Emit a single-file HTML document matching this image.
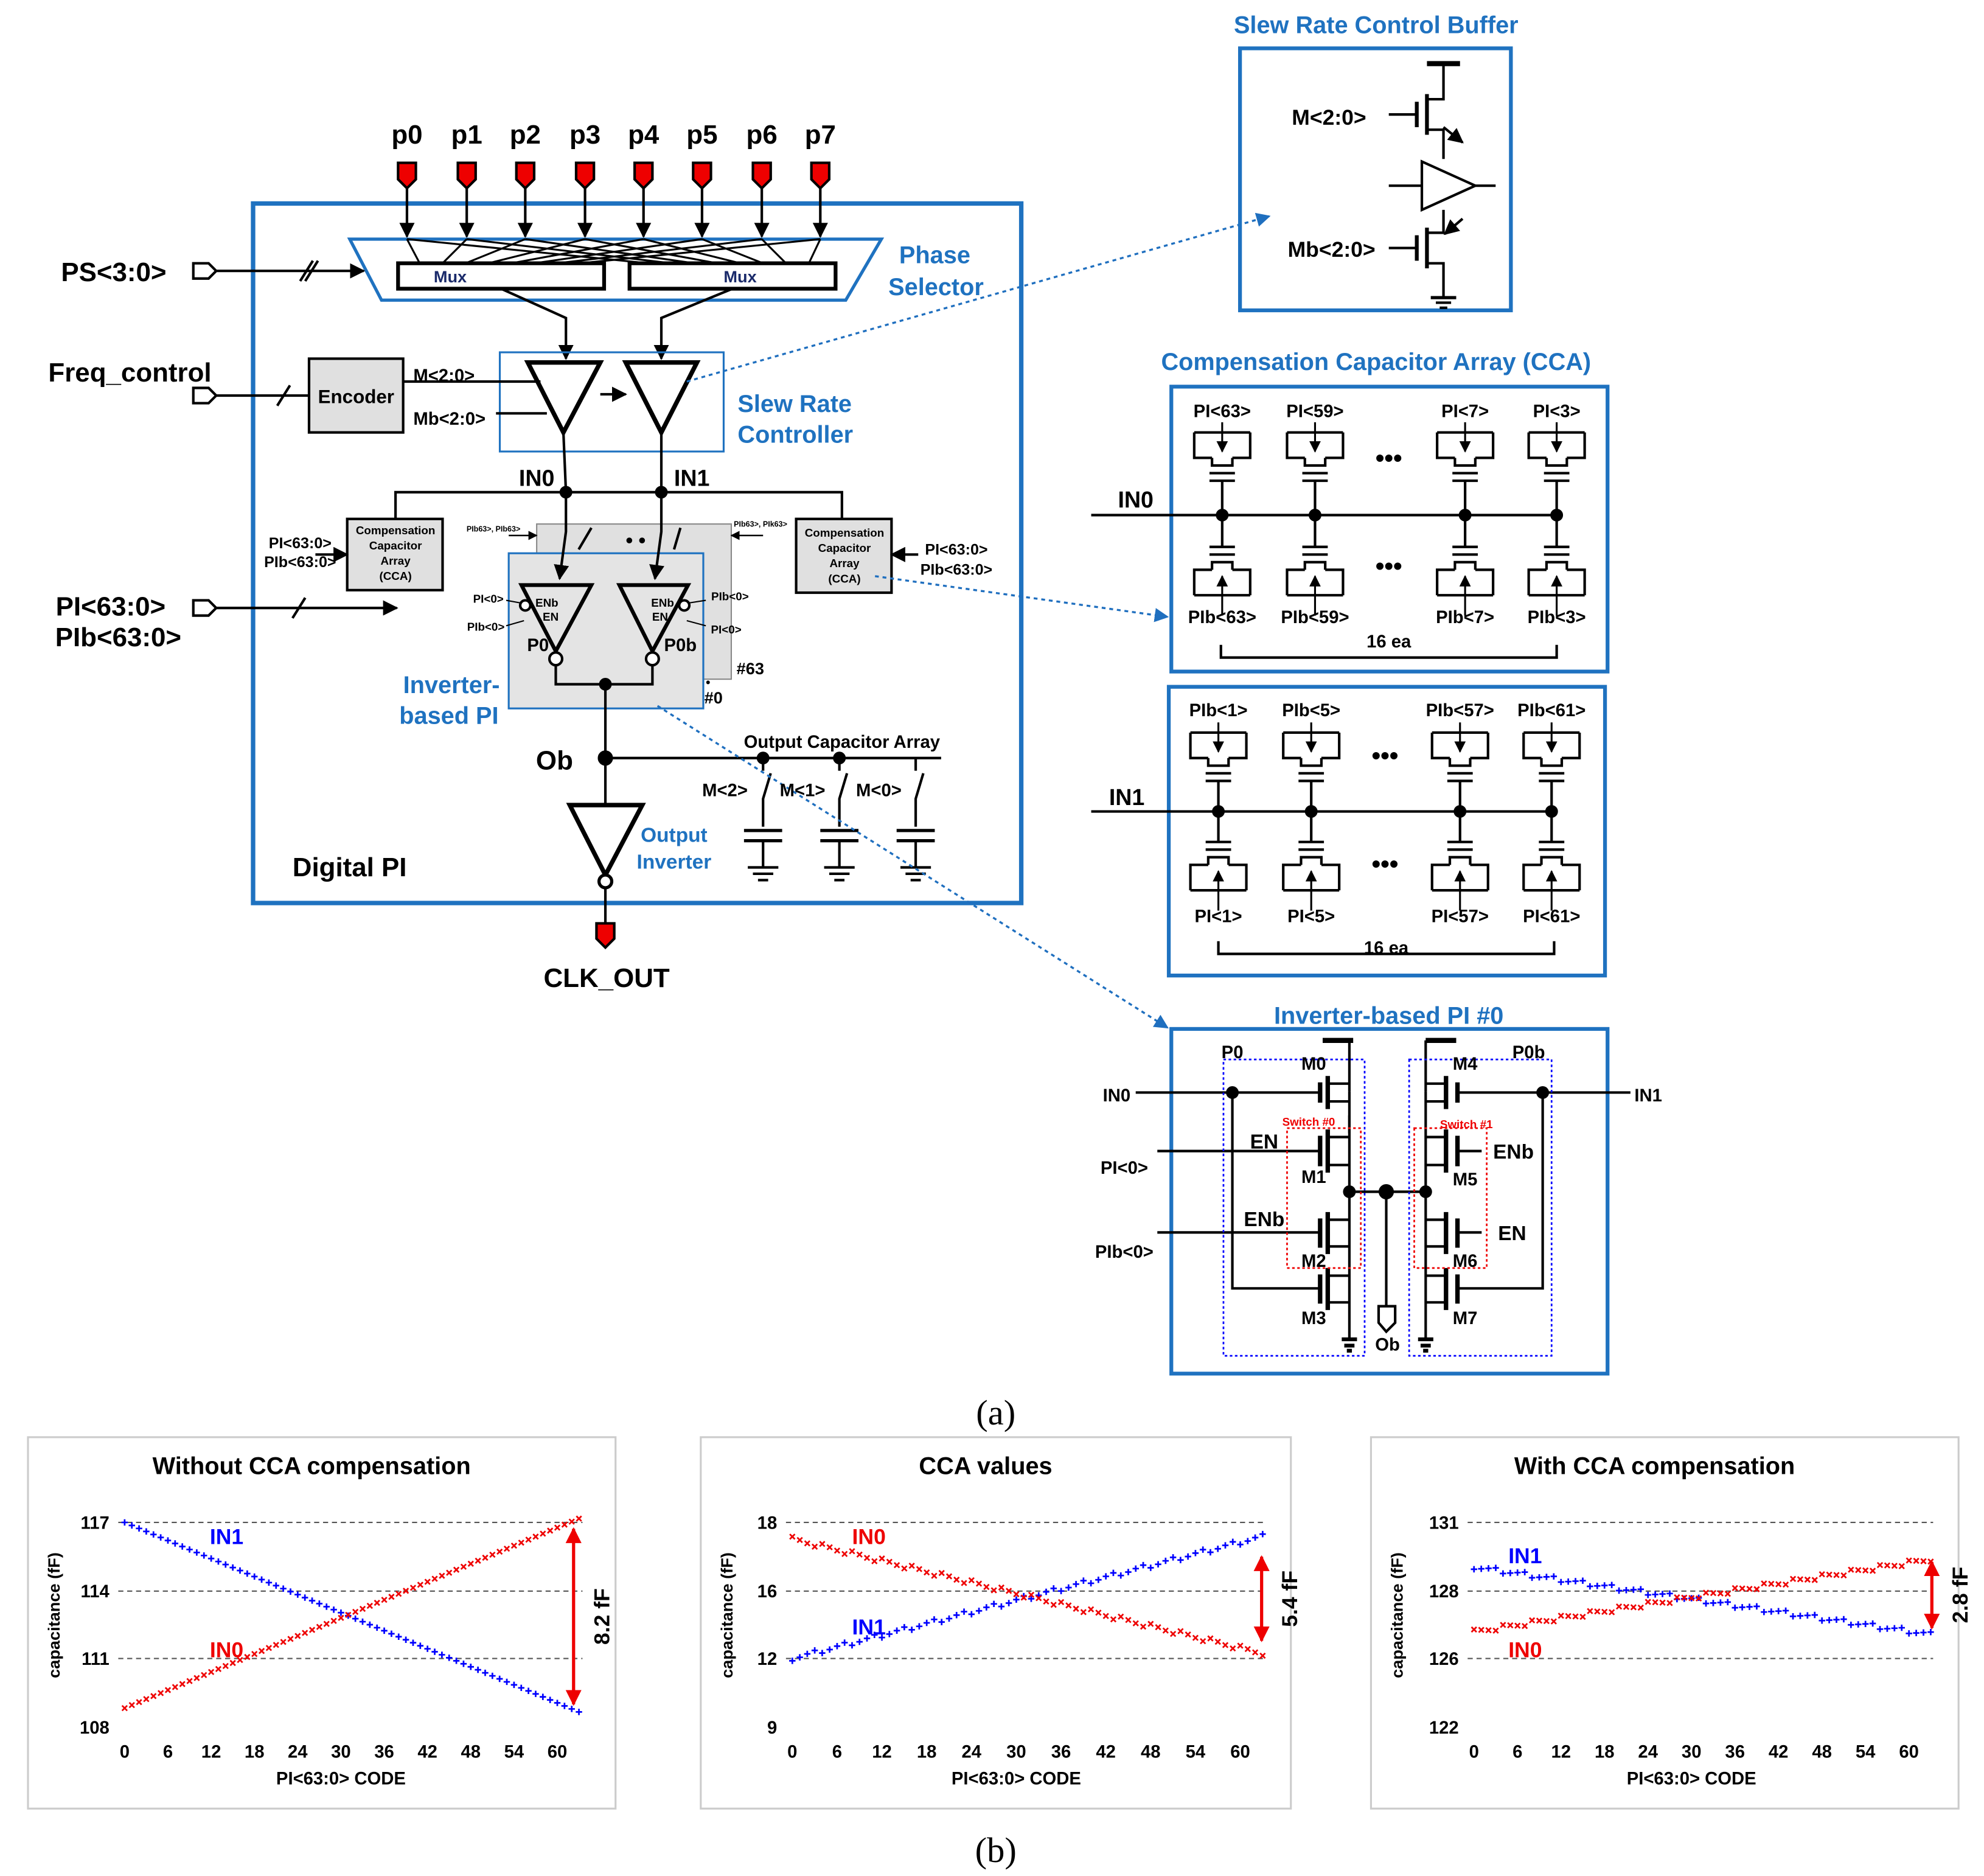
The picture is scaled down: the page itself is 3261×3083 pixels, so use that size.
<!DOCTYPE html>
<html><head><meta charset="utf-8"><style>
html,body{margin:0;padding:0;background:#fff}
svg{display:block}
text{font-family:"Liberation Sans",Arial,sans-serif;font-weight:bold}
</style></head><body>
<svg id="s" width="3261" height="3083" viewBox="0 0 1560 1475" preserveAspectRatio="none" xmlns="http://www.w3.org/2000/svg">
<defs>
<marker id="ar" viewBox="0 0 10 10" refX="9" refY="5" markerWidth="6" markerHeight="6" orient="auto"><path d="M0,0L10,5L0,10z" fill="#000"/></marker>
<marker id="ab" viewBox="0 0 10 10" refX="9" refY="5" markerWidth="7" markerHeight="7" orient="auto"><path d="M0,0L10,5L0,10z" fill="#1f6fbf"/></marker>
<marker id="arr" viewBox="0 0 10 10" refX="9" refY="5" markerWidth="5" markerHeight="5" orient="auto-start-reverse"><path d="M0,0L10,5L0,10z" fill="#e00"/></marker>
</defs>
<g id="g" stroke="#000" stroke-width="2" fill="none">
<!-- main box -->
<rect x="199" y="160" width="604" height="550" stroke="#1f72c0" stroke-width="3.5"/>
<!-- pins -->
<g id="pins"></g>
<!-- phase selector -->
<polygon points="275,188 693,188 665,236 300,236" stroke="#1f72c0" stroke-width="2.5"/>
<rect x="313" y="207" width="162" height="20" stroke-width="3"/>
<rect x="495" y="207" width="162" height="20" stroke-width="3"/>
<g id="psl" stroke-width="1.5"></g>
<path d="M394,227 L445,250 L445,282" marker-end="url(#ar)"/>
<path d="M576,227 L520,250 L520,282" marker-end="url(#ar)"/>
<!-- PS input -->
<polygon points="152,207 164,207 170,213 164,219 152,219" stroke-width="2"/>
<line x1="170" y1="213" x2="286" y2="213" marker-end="url(#ar)"/>
<line x1="236" y1="221" x2="246" y2="205"/><line x1="240" y1="221" x2="250" y2="205"/>
<!-- slew -->
<rect x="393" y="277" width="176" height="78" stroke="#1f72c0" stroke-width="1.5"/>
<polygon points="415,285 472,285 443,340" stroke-width="3.5"/>
<polygon points="492,285 548,285 520,340" stroke-width="3.5"/>
<line x1="472" y1="310" x2="492" y2="310" marker-end="url(#ar)"/>
<line x1="317" y1="300" x2="425" y2="300"/><line x1="390" y1="325" x2="430" y2="325"/>
<rect x="243" y="282" width="74" height="58" fill="#e0e0e0"/>
<polygon points="152,305 164,305 170,311 164,317 152,317"/>
<line x1="170" y1="311" x2="243" y2="311"/>
<line x1="218" y1="319" x2="228" y2="303"/>
<line x1="443" y1="340" x2="445" y2="387"/><line x1="520" y1="340" x2="520" y2="387"/>
<path d="M311,408 V387 H662 V408"/>
<circle cx="445" cy="387" r="4" fill="#000"/><circle cx="520" cy="387" r="4" fill="#000"/>
<!-- CCA boxes -->
<rect x="273" y="408" width="75" height="56" fill="#e0e0e0"/>
<rect x="626" y="408" width="75" height="58" fill="#e0e0e0"/>
<line x1="248" y1="436" x2="273" y2="436" marker-end="url(#ar)"/>
<line x1="722" y1="436" x2="701" y2="436" marker-end="url(#ar)"/>
<!-- PI stack -->
<rect x="422" y="412" width="153" height="122" fill="#e0e0e0" stroke="#888" stroke-width="1"/>
<rect x="400" y="435" width="153" height="122" fill="#e4e4e4" stroke="#1f72c0" stroke-width="1.5"/>
<path d="M445,387 V418 L440,455" marker-end="url(#ar)"/>
<path d="M520,387 V418 L515,455" marker-end="url(#ar)"/>
<path d="M455,432 L465,415" /><path d="M530,432 L535,415"/>
<line x1="400" y1="421" x2="422" y2="421" marker-end="url(#ar)" stroke-width="1.2"/>
<line x1="600" y1="421" x2="575" y2="421" marker-end="url(#ar)" stroke-width="1.2"/>
<polygon points="410,460 465,460 437,512" stroke-width="3"/>
<polygon points="487,460 541,460 513,512" stroke-width="3"/>
<circle cx="413" cy="476" r="4" fill="#fff"/><circle cx="538" cy="476" r="4" fill="#fff"/>
<circle cx="437" cy="518" r="5" fill="#fff"/><circle cx="513" cy="518" r="5" fill="#fff"/>
<path d="M437,523 V538 H513 V523"/>
<circle cx="476" cy="538" r="4" fill="#000"/>
<line x1="476" y1="538" x2="476" y2="633"/>
<line x1="398" y1="472" x2="409" y2="474" stroke-width="1"/><line x1="398" y1="492" x2="412" y2="488" stroke-width="1"/>
<line x1="555" y1="472" x2="542" y2="474" stroke-width="1"/><line x1="555" y1="492" x2="540" y2="488" stroke-width="1"/>
<!-- PI input -->
<polygon points="152,472 164,472 170,478 164,484 152,484"/>
<line x1="170" y1="478" x2="312" y2="478" marker-end="url(#ar)"/>
<line x1="230" y1="486" x2="240" y2="470"/>
<!-- Ob -->
<line x1="476" y1="596" x2="740" y2="596"/>
<circle cx="476" cy="596" r="5" fill="#000"/>
<polygon points="448,633 505,633 476,688" stroke-width="3.5"/>
<circle cx="476" cy="693" r="5" fill="#fff" stroke-width="2.5"/>
<line x1="476" y1="698" x2="476" y2="726"/>
<polygon points="469,726 483,726 483,738 476,745 469,738" fill="#e00"/>
<g id="caps"></g>
<!-- dotted connectors -->
<g stroke="#1f6fbf" stroke-width="1.6" stroke-dasharray="3,3">
<line x1="540" y1="300" x2="998" y2="170" marker-end="url(#ab)"/>
<line x1="688" y1="453" x2="918" y2="485" marker-end="url(#ab)"/>
<line x1="517" y1="555" x2="918" y2="808" marker-end="url(#ab)"/>
</g>
<!-- right boxes -->
<rect x="975" y="38" width="213" height="206" stroke="#1f72c0" stroke-width="3"/>
<rect x="921" y="304" width="343" height="224" stroke="#1f72c0" stroke-width="3"/>
<rect x="919" y="540" width="343" height="227" stroke="#1f72c0" stroke-width="3"/>
<rect x="921" y="809" width="343" height="271" stroke="#1f72c0" stroke-width="3"/>
<!-- slew buffer -->
<line x1="1122" y1="50" x2="1148" y2="50" stroke-width="4"/>
<path d="M1135,50 V78 H1122 M1122,102 H1135 V125"/>
<line x1="1122" y1="74" x2="1122" y2="106" stroke-width="3"/>
<line x1="1114" y1="80" x2="1114" y2="100" stroke-width="3"/>
<line x1="1092" y1="90" x2="1114" y2="90"/>
<line x1="1135" y1="100" x2="1150" y2="112" marker-end="url(#ar)"/>
<polygon points="1118,127 1118,165 1160,146" stroke-width="2"/>
<line x1="1092" y1="146" x2="1118" y2="146"/><line x1="1160" y1="146" x2="1176" y2="146"/>
<path d="M1135,165 V183 H1122 M1122,207 H1135 V233"/>
<line x1="1122" y1="179" x2="1122" y2="211" stroke-width="3"/>
<line x1="1114" y1="185" x2="1114" y2="205" stroke-width="3"/>
<line x1="1092" y1="195" x2="1114" y2="195"/>
<line x1="1150" y1="172" x2="1136" y2="184" marker-end="url(#ar)"/>
<line x1="1125" y1="234" x2="1145" y2="234" stroke-width="2.5"/><line x1="1129" y1="238" x2="1141" y2="238" stroke-width="2"/><line x1="1132" y1="242" x2="1138" y2="242" stroke-width="2"/>
<!-- CCA arrays -->
<line x1="858" y1="405" x2="1226" y2="405"/>
<line x1="858" y1="638" x2="1222" y2="638"/>
<path d="M960,507 V517 H1224 V507"/>
<path d="M958,740 V750 H1222 V740"/>
<g id="cca"></g>
<!-- PI #0 -->
<g id="pi0"></g>
</g>
<g id="charts"></g>
<g fill="#000" font-size="21">
<text x="320" y="113" text-anchor="middle">p0</text><text x="367" y="113" text-anchor="middle">p1</text><text x="413" y="113" text-anchor="middle">p2</text><text x="460" y="113" text-anchor="middle">p3</text><text x="506" y="113" text-anchor="middle">p4</text><text x="552" y="113" text-anchor="middle">p5</text><text x="599" y="113" text-anchor="middle">p6</text><text x="645" y="113" text-anchor="middle">p7</text>
<text x="48" y="221">PS&lt;3:0&gt;</text>
<text x="38" y="300">Freq_control</text>
<text x="87" y="484" text-anchor="middle">PI&lt;63:0&gt;</text>
<text x="93" y="508" text-anchor="middle">PIb&lt;63:0&gt;</text>
<text x="477" y="776" text-anchor="middle">CLK_OUT</text>
<text x="230" y="689">Digital PI</text>
<text x="436" y="605" text-anchor="middle">Ob</text>
<text x="408" y="382" font-size="18">IN0</text><text x="530" y="382" font-size="18">IN1</text>
</g>
<g fill="#1f72c0" font-size="19">
<text x="735" y="207" text-anchor="middle">Phase</text><text x="736" y="232" text-anchor="middle">Selector</text>
<text x="580" y="324">Slew Rate</text><text x="580" y="348">Controller</text>
<text x="355" y="545" text-anchor="middle">Inverter-</text><text x="353" y="569" text-anchor="middle">based PI</text>
<text x="530" y="662" text-anchor="middle" font-size="16">Output</text><text x="530" y="683" text-anchor="middle" font-size="16">Inverter</text>
<text x="1082" y="26" text-anchor="middle">Slew Rate Control Buffer</text>
<text x="1082" y="291" text-anchor="middle">Compensation Capacitor Array (CCA)</text>
<text x="1092" y="805" text-anchor="middle">Inverter-based PI #0</text>
</g>
<g fill="#000" font-size="14">
<text x="354" y="222" text-anchor="middle" fill="#1a2a6a" font-size="13">Mux</text>
<text x="582" y="222" text-anchor="middle" fill="#1a2a6a" font-size="13">Mux</text>
<text x="280" y="317" text-anchor="middle" font-size="15">Encoder</text>
<text x="325" y="300">M&lt;2:0&gt;</text><text x="325" y="334">Mb&lt;2:0&gt;</text>
<text x="311" y="420" text-anchor="middle" font-size="9" font-weight="normal">Compensation</text>
<text x="311" y="432" text-anchor="middle" font-size="9" font-weight="normal">Capacitor</text>
<text x="311" y="444" text-anchor="middle" font-size="9" font-weight="normal">Array</text>
<text x="311" y="456" text-anchor="middle" font-size="9" font-weight="normal">(CCA)</text>
<text x="664" y="422" text-anchor="middle" font-size="9" font-weight="normal">Compensation</text>
<text x="664" y="434" text-anchor="middle" font-size="9" font-weight="normal">Capacitor</text>
<text x="664" y="446" text-anchor="middle" font-size="9" font-weight="normal">Array</text>
<text x="664" y="458" text-anchor="middle" font-size="9" font-weight="normal">(CCA)</text>
<text x="236" y="431" text-anchor="middle" font-size="12">PI&lt;63:0&gt;</text><text x="236" y="446" text-anchor="middle" font-size="12">PIb&lt;63:0&gt;</text>
<text x="752" y="436" text-anchor="middle" font-size="12">PI&lt;63:0&gt;</text><text x="752" y="452" text-anchor="middle" font-size="12">PIb&lt;63:0&gt;</text>
<text x="388" y="418" text-anchor="middle" font-size="6" font-weight="normal">PIb63&gt;, PIb63&gt;</text>
<text x="598" y="414" text-anchor="middle" font-size="6" font-weight="normal">PIb63&gt;, PIk63&gt;</text>
<text x="430" y="477" text-anchor="middle" font-size="9">ENb</text><text x="433" y="488" text-anchor="middle" font-size="9">EN</text>
<text x="521" y="477" text-anchor="middle" font-size="9">ENb</text><text x="519" y="488" text-anchor="middle" font-size="9">EN</text>
<text x="384" y="474" text-anchor="middle" font-size="9">PI&lt;0&gt;</text><text x="382" y="496" text-anchor="middle" font-size="9">PIb&lt;0&gt;</text>
<text x="574" y="472" text-anchor="middle" font-size="9">PIb&lt;0&gt;</text><text x="571" y="498" text-anchor="middle" font-size="9">PI&lt;0&gt;</text>
<text x="423" y="512" text-anchor="middle">P0</text><text x="535" y="512" text-anchor="middle">P0b</text>
<text x="492" y="430" font-size="16">• •</text>
<text x="590" y="530" text-anchor="middle" font-size="13">#63</text>
<text x="561" y="553" text-anchor="middle" font-size="13">#0</text>
<text x="555" y="540" font-size="10">•</text>
<text x="662" y="588" text-anchor="middle">Output Capacitor Array</text>
<text x="570" y="626" text-anchor="middle">M&lt;2&gt;</text><text x="631" y="626" text-anchor="middle">M&lt;1&gt;</text><text x="691" y="626" text-anchor="middle">M&lt;0&gt;</text>
<text x="1045" y="98" text-anchor="middle" font-size="17">M&lt;2:0&gt;</text>
<text x="1047" y="202" text-anchor="middle" font-size="17">Mb&lt;2:0&gt;</text>
<text x="893" y="399" text-anchor="middle" font-size="18">IN0</text>
<text x="886" y="633" text-anchor="middle" font-size="18">IN1</text>
<text x="961" y="328" text-anchor="middle">PI&lt;63&gt;</text><text x="1034" y="328" text-anchor="middle">PI&lt;59&gt;</text><text x="1152" y="328" text-anchor="middle">PI&lt;7&gt;</text><text x="1224" y="328" text-anchor="middle">PI&lt;3&gt;</text>
<text x="961" y="490" text-anchor="middle">PIb&lt;63&gt;</text><text x="1034" y="490" text-anchor="middle">PIb&lt;59&gt;</text><text x="1152" y="490" text-anchor="middle">PIb&lt;7&gt;</text><text x="1224" y="490" text-anchor="middle">PIb&lt;3&gt;</text>
<text x="1092" y="509" text-anchor="middle">16 ea</text>
<text x="958" y="563" text-anchor="middle">PIb&lt;1&gt;</text><text x="1031" y="563" text-anchor="middle">PIb&lt;5&gt;</text><text x="1148" y="563" text-anchor="middle">PIb&lt;57&gt;</text><text x="1220" y="563" text-anchor="middle">PIb&lt;61&gt;</text>
<text x="958" y="725" text-anchor="middle">PI&lt;1&gt;</text><text x="1031" y="725" text-anchor="middle">PI&lt;5&gt;</text><text x="1148" y="725" text-anchor="middle">PI&lt;57&gt;</text><text x="1220" y="725" text-anchor="middle">PI&lt;61&gt;</text>
<text x="1090" y="750" text-anchor="middle">16 ea</text>
<text x="1092" y="367" text-anchor="middle" font-size="20">•••</text><text x="1092" y="452" text-anchor="middle" font-size="20">•••</text>
<text x="1089" y="601" text-anchor="middle" font-size="20">•••</text><text x="1089" y="686" text-anchor="middle" font-size="20">•••</text>
<text x="878" y="866" text-anchor="middle">IN0</text><text x="884" y="923" text-anchor="middle">PI&lt;0&gt;</text><text x="884" y="989" text-anchor="middle">PIb&lt;0&gt;</text><text x="1296" y="866" text-anchor="middle">IN1</text>
<text x="969" y="832" text-anchor="middle">P0</text><text x="1202" y="832" text-anchor="middle">P0b</text>
<text x="1033" y="841" text-anchor="middle">M0</text><text x="1033" y="930" text-anchor="middle">M1</text><text x="1033" y="996" text-anchor="middle">M2</text><text x="1033" y="1041" text-anchor="middle">M3</text>
<text x="1152" y="841" text-anchor="middle">M4</text><text x="1152" y="932" text-anchor="middle">M5</text><text x="1152" y="996" text-anchor="middle">M6</text><text x="1152" y="1041" text-anchor="middle">M7</text>
<text x="994" y="903" text-anchor="middle" font-size="16">EN</text><text x="994" y="964" text-anchor="middle" font-size="16">ENb</text>
<text x="1190" y="911" text-anchor="middle" font-size="16">ENb</text><text x="1189" y="975" text-anchor="middle" font-size="16">EN</text>
<text x="1029" y="885" text-anchor="middle" font-size="9" fill="#e00" font-weight="normal">Switch #0</text>
<text x="1153" y="887" text-anchor="middle" font-size="9" fill="#e00" font-weight="normal">Switch #1</text>
<text x="1091" y="1062" text-anchor="middle">Ob</text>
</g>
<g font-family="Liberation Serif" fill="#000" font-size="28">
<text x="783" y="1120" text-anchor="middle" style="font-family:'Liberation Serif',serif;font-weight:normal">(a)</text>
<text x="783" y="1464" text-anchor="middle" style="font-family:'Liberation Serif',serif;font-weight:normal">(b)</text>
</g>
</svg>
<script>
var NS="http://www.w3.org/2000/svg";
function el(p,t,a,txt){var e=document.createElementNS(NS,t);for(var k in a)e.setAttribute(k,a[k]);if(txt!==undefined)e.textContent=txt;p.appendChild(e);return e;}
function $(i){return document.getElementById(i);}
// pins
var px=[320,367,413,460,506,552,599,645];
px.forEach(function(x){
 el($('pins'),'polygon',{points:(x-7)+',128 '+(x+7)+',128 '+(x+7)+',141 '+x+',148 '+(x-7)+',141',fill:'#e00'});
 el($('pins'),'line',{x1:x,y1:148,x2:x,y2:186,'marker-end':'url(#ar)'});
});
px.forEach(function(x,i){
 el($('psl'),'line',{x1:x,y1:188,x2:330+i*18,y2:207});
 el($('psl'),'line',{x1:x,y1:188,x2:510+i*18,y2:207});
});
// caps
[600,660,720].forEach(function(x,i){
 var g=$('caps');
 el(g,'circle',{cx:x,cy:596,r:i<2?4:0,fill:'#000'});
 el(g,'path',{d:'M'+x+',596 V606 M'+(x+6)+',608 L'+x+',628 V650'});
 el(g,'line',{x1:x-15,y1:653,x2:x+15,y2:653,'stroke-width':2.5});
 el(g,'line',{x1:x-15,y1:661,x2:x+15,y2:661,'stroke-width':2.5});
 el(g,'path',{d:'M'+x+',661 V682 M'+(x-12)+','+682+' H'+(x+12)+' M'+(x-8)+',687 H'+(x+8)+' M'+(x-4)+',692 H'+(x+4)});
});
// CCA cells
function cell(g,x,yTop,yBot){ // shape like bracket box with transistor
 el(g,'path',{d:'M'+(x-22)+','+yTop+' H'+(x+22)+' V'+(yTop+20)+' H'+(x+8)+' M'+(x-22)+','+yTop+' V'+(yTop+20)+' H'+(x-8)});
}
function cca(xs,yl,yt,yb){
 var g=$('cca');
 xs.forEach(function(x){
  // top pmos-like
  el(g,'path',{d:'M'+(x-22)+','+yt+' V'+(yt+20)+' H'+(x-8)+' M'+(x+22)+','+yt+' V'+(yt+20)+' H'+(x+8)+' M'+(x-22)+','+yt+' H'+(x+22)});
  el(g,'path',{d:'M'+(x-8)+','+(yt+20)+' V'+(yt+26)+' H'+(x+8)+' V'+(yt+20)+' M'+(x-10)+','+(yt+32)+' H'+(x+10)+' M'+(x-10)+','+(yt+38)+' H'+(x+10)+' M'+x+','+(yt+38)+' V'+(yb-38)});
  el(g,'line',{x1:x,y1:yt-8,x2:x,y2:yt+15,'marker-end':'url(#ar)','stroke-width':1.5});
  el(g,'path',{d:'M'+(x-10)+','+(yb-38)+' H'+(x+10)+' M'+(x-10)+','+(yb-32)+' H'+(x+10)+' M'+(x-8)+','+(yb-20)+' V'+(yb-26)+' H'+(x+8)+' V'+(yb-20)});
  el(g,'path',{d:'M'+(x-22)+','+yb+' V'+(yb-20)+' H'+(x-8)+' M'+(x+22)+','+yb+' V'+(yb-20)+' H'+(x+8)+' M'+(x-22)+','+yb+' H'+(x+22)});
  el(g,'line',{x1:x,y1:yb+16,x2:x,y2:yb-15,'marker-end':'url(#ar)','stroke-width':1.5});
  el(g,'circle',{cx:x,cy:yl,r:4,fill:'#000'});
 });
}
cca([961,1034,1152,1224],405,340,468);
cca([958,1031,1148,1220],638,576,700);
// PI #0
var g=$('pi0');
function P(d,w){el(g,'path',{d:d,'stroke-width':w||2});}
P('M1040,818 H1064',4);P('M1121,818 H1145',4);
P('M1061,818 V858');P('M1121,818 V858');
// left column
[[849,869,859],[891,919,905],[956,983,969],[1000,1027,1013]].forEach(function(t,i){
 P('M1038,'+(t[0]+2)+' V'+(t[1]-2),3.5);P('M1044,'+(t[0]-3)+' V'+(t[1]+3),3.5);
 P('M1044,'+(t[0]+3)+' H1061 M1044,'+(t[1]-3)+' H1061');
 P('M1146,'+(t[0]+2)+' V'+(t[1]-2),3.5);P('M1137,'+(t[0]-3)+' V'+(t[1]+3),3.5);
 P('M1137,'+(t[0]+3)+' H1121 M1137,'+(t[1]-3)+' H1121');
});
P('M1061,858 V937 M1061,937 V1053 M1121,858 V1053');
P('M1061,877 V891');
P('M1055,1053 H1067 M1057,1058 H1065 M1059,1062 H1063',3);
P('M1115,1053 H1127 M1117,1058 H1125 M1119,1062 H1123',3);
P('M1061,937 H1121');
el(g,'circle',{cx:1061,cy:937,r:4,fill:'#000'});el(g,'circle',{cx:1121,cy:937,r:4,fill:'#000'});el(g,'circle',{cx:1090,cy:937,r:5,fill:'#000'});
P('M1090,937 V1027');
el(g,'polygon',{points:'1084,1027 1097,1027 1097,1040 1090,1047 1084,1040',fill:'#fff'});
P('M893,859 H1038 M910,905 H1038 M910,969 H1038');
P('M969,859 V1013 H1038');el(g,'circle',{cx:969,cy:859,r:4,fill:'#000'});
P('M1146,859 H1282 M1213,859 V1013 H1146');el(g,'circle',{cx:1213,cy:859,r:4,fill:'#000'});
P('M1146,905 H1165 M1146,969 H1165');
el(g,'rect',{x:962,y:833,width:111,height:233,stroke:'#00f','stroke-width':1.3,'stroke-dasharray':'2,2'});
el(g,'rect',{x:1108,y:833,width:112,height:233,stroke:'#00f','stroke-width':1.3,'stroke-dasharray':'2,2'});
el(g,'rect',{x:1012,y:887,width:58,height:110,stroke:'#e00','stroke-width':1.3,'stroke-dasharray':'2,2'});
el(g,'rect',{x:1112,y:887,width:57,height:110,stroke:'#e00','stroke-width':1.3,'stroke-dasharray':'2,2'});
// charts
var C=$('charts');
function chart(o){
 el(C,'rect',{x:o.bx,y:1130,width:o.bw,height:292,fill:'#fff',stroke:'#ccc','stroke-width':1.5});
 el(C,'text',{x:o.bx+o.bw/2-8,y:1159,'text-anchor':'middle','font-size':19,fill:'#000'},o.title);
 var gl=[1197,1251,1304];
 gl.forEach(function(y){el(C,'line',{x1:o.x0-5,y1:y,x2:o.x1,y2:y,stroke:'#555','stroke-dasharray':'4,3','stroke-width':1});});
 o.yl.forEach(function(t,i){el(C,'text',{x:o.x0-12,y:[1197,1251,1304,1358][i]+5,'text-anchor':'end','font-size':14,fill:'#000'},t);});
 for(var k=0;k<=60;k+=6)el(C,'text',{x:o.x0+k*o.dx,y:1382,'text-anchor':'middle','font-size':14,fill:'#000'},String(k));
 el(C,'text',{x:o.x0+30*o.dx,y:1403,'text-anchor':'middle','font-size':14,fill:'#000'},'PI<63:0> CODE');
 var t=el(C,'text',{x:0,y:0,'text-anchor':'middle','font-size':13,fill:'#000',transform:'translate('+(o.bx+25)+',1270) rotate(-90)'},'capacitance (fF)');
 for(var i=0;i<64;i++){
  var x=o.x0+i*o.dx;
  var yb=o.b0+(o.b1-o.b0)*i/63, yr=o.r0+(o.r1-o.r0)*i/63;
  if(o.step){yb+=((i%4)-1.5)*-1.2;yr+=((i%4)-1.5)*1.2;}
  el(C,'path',{d:'M'+(x-2.5)+','+yb+'h5M'+x+','+(yb-2.5)+'v5',stroke:'#00f','stroke-width':1.3});
  el(C,'path',{d:'M'+(x-2)+','+(yr-2)+'l4,4M'+(x-2)+','+(yr+2)+'l4,-4',stroke:'#e00','stroke-width':1.3});
 }
 el(C,'line',{x1:o.ax,y1:o.a0,x2:o.ax,y2:o.a1,stroke:'#e00','stroke-width':2.5,'marker-start':'url(#arr)','marker-end':'url(#arr)'});
 el(C,'text',{x:0,y:0,'text-anchor':'middle','font-size':17,fill:'#000',transform:'translate('+(o.ax+28)+','+((o.a0+o.a1)/2)+') rotate(-90)'},o.lab);
 el(C,'text',{x:o.in1[0],y:o.in1[1],'font-size':17,fill:'#00f'},'IN1');
 el(C,'text',{x:o.in0[0],y:o.in0[1],'font-size':17,fill:'#e00'},'IN0');
}
chart({bx:22,bw:462,title:'Without CCA compensation',x0:98,x1:458,dx:5.67,yl:['117','114','111','108'],b0:1197,b1:1346,r0:1343,r1:1194,ax:451,a0:1202,a1:1340,lab:'8.2 fF',in1:[165,1214],in0:[165,1303]});
chart({bx:551,bw:464,title:'CCA values',x0:623,x1:995,dx:5.87,yl:['18','16','12','9'],b0:1304,b1:1208,r0:1210,r1:1300,step:true,ax:992,a0:1224,a1:1290,lab:'5.4 fF',in1:[670,1285],in0:[670,1214]});
chart({bx:1078,bw:462,title:'With CCA compensation',x0:1159,x1:1520,dx:5.7,yl:['131','128','126','122'],b0:1232,b1:1285,r0:1283,r1:1226,step:true,ax:1519,a0:1228,a1:1280,lab:'2.8 fF',in1:[1186,1229],in0:[1186,1303]});
</script>
</body></html>
